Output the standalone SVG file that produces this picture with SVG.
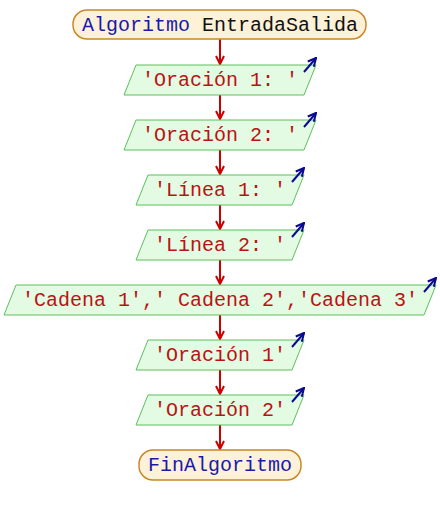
<svg xmlns="http://www.w3.org/2000/svg" width="440" height="515" viewBox="0 0 440 515">
<defs>
<style>
.term{fill:#fdf2d8;stroke:#c8882a;stroke-width:1.5}
.io{fill:#e2fbe2;stroke:#5cc05c;stroke-width:1}
.t{font-family:"Liberation Mono","Courier New",monospace;font-size:20px;text-anchor:middle}
.kw{fill:#1a1aaa}
.id{fill:#111}
.str{fill:#b81414}
.conn{stroke:#cc0000;stroke-width:2;fill:none}
.out{stroke:#0a0a90;stroke-width:2;fill:none}
</style>
<marker id="ah" viewBox="0 0 10 10" refX="9" refY="5" markerWidth="10" markerHeight="10" markerUnits="userSpaceOnUse" orient="auto">
<path d="M1,1 L9,5 L1,9" fill="none" stroke="#cc0000" stroke-width="2"/>
</marker>
<marker id="ob" viewBox="0 0 10 10" refX="9" refY="5" markerWidth="10" markerHeight="10" markerUnits="userSpaceOnUse" orient="auto">
<path d="M1,1 L9,5 L1,9" fill="none" stroke="#0a0a90" stroke-width="2"/>
</marker>
</defs>
<rect width="440" height="515" fill="#ffffff"/>
<g id="connectors">
<line class="conn" x1="220" y1="39" x2="220" y2="64" marker-end="url(#ah)"/>
<line class="conn" x1="220" y1="95" x2="220" y2="119" marker-end="url(#ah)"/>
<line class="conn" x1="220" y1="150" x2="220" y2="174" marker-end="url(#ah)"/>
<line class="conn" x1="220" y1="205" x2="220" y2="229" marker-end="url(#ah)"/>
<line class="conn" x1="220" y1="260" x2="220" y2="284" marker-end="url(#ah)"/>
<line class="conn" x1="220" y1="315" x2="220" y2="339" marker-end="url(#ah)"/>
<line class="conn" x1="220" y1="370" x2="220" y2="394" marker-end="url(#ah)"/>
<line class="conn" x1="220" y1="425" x2="220" y2="449" marker-end="url(#ah)"/>
</g>
<g id="start">
<rect class="term" x="73" y="10" width="293" height="29" rx="14" ry="14"/>
<text class="t" x="220" y="31"><tspan class="kw">Algoritmo</tspan><tspan class="id"> EntradaSalida</tspan></text>
</g>
<g id="out1">
<polygon class="io" points="136,65 316,65 304,95 124,95"/>
<line class="out" x1="304" y1="72" x2="316" y2="58" marker-end="url(#ob)"/>
<text class="t str" x="220" y="86">'Oración 1: '</text>
</g>
<g id="out2">
<polygon class="io" points="136,120 316,120 304,150 124,150"/>
<line class="out" x1="304" y1="127" x2="316" y2="113" marker-end="url(#ob)"/>
<text class="t str" x="220" y="141">'Oración 2: '</text>
</g>
<g id="out3">
<polygon class="io" points="148,175 304,175 292,205 136,205"/>
<line class="out" x1="292" y1="182" x2="304" y2="168" marker-end="url(#ob)"/>
<text class="t str" x="220" y="196">'Línea 1: '</text>
</g>
<g id="out4">
<polygon class="io" points="148,230 304,230 292,260 136,260"/>
<line class="out" x1="292" y1="237" x2="304" y2="223" marker-end="url(#ob)"/>
<text class="t str" x="220" y="251">'Línea 2: '</text>
</g>
<g id="out5">
<polygon class="io" points="16,285 436,285 424,315 4,315"/>
<line class="out" x1="424" y1="292" x2="436" y2="278" marker-end="url(#ob)"/>
<text class="t str" x="220" y="306" xml:space="preserve">'Cadena 1',' Cadena 2','Cadena 3'</text>
</g>
<g id="out6">
<polygon class="io" points="148,340 304,340 292,370 136,370"/>
<line class="out" x1="292" y1="347" x2="304" y2="333" marker-end="url(#ob)"/>
<text class="t str" x="220" y="361">'Oración 1'</text>
</g>
<g id="out7">
<polygon class="io" points="148,395 304,395 292,425 136,425"/>
<line class="out" x1="292" y1="402" x2="304" y2="388" marker-end="url(#ob)"/>
<text class="t str" x="220" y="416">'Oración 2'</text>
</g>
<g id="end">
<rect class="term" x="139" y="450" width="162" height="30" rx="14" ry="14"/>
<text class="t kw" x="220" y="471">FinAlgoritmo</text>
</g>
</svg>
